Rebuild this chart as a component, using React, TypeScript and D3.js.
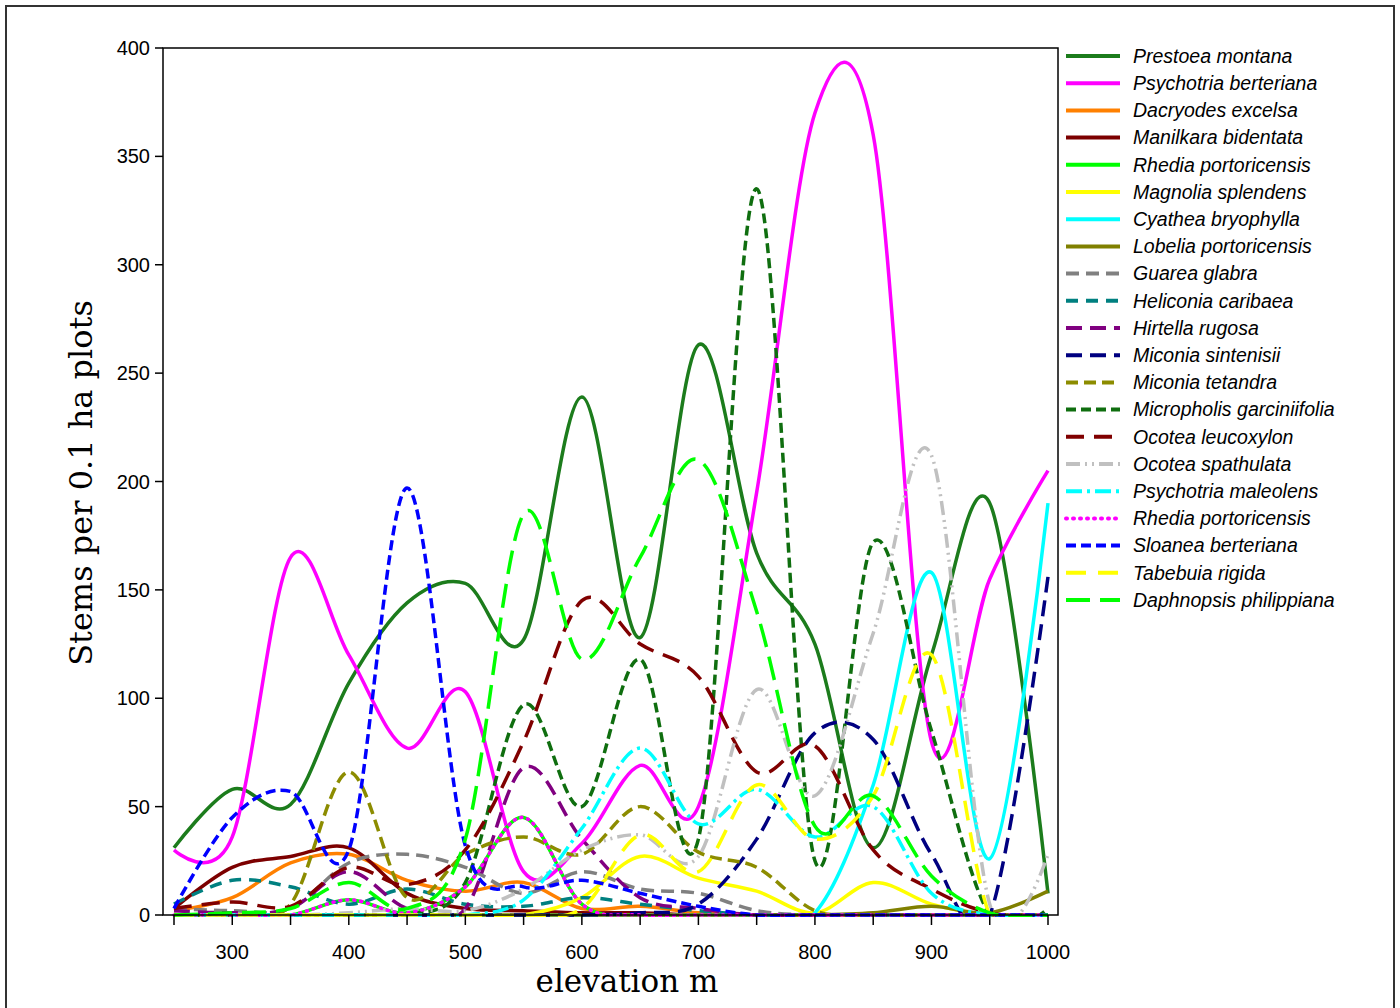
import * as d3 from 'd3';

const elevation = [250, 300, 350, 400, 450, 500, 550, 600, 650, 700, 750, 800, 850, 900, 950, 1000];

const prestoeaMontana = [31, 58, 51, 107, 144, 153, 127, 239, 128, 263, 167, 125, 31, 120, 190, 10];
const psychotriaBerteriana = [30, 36, 165, 120, 77, 103, 20, 33, 69, 50, 195, 370, 360, 80, 155, 205];
const dacryodesExcelsa = [2, 8, 24, 28, 16, 11, 15, 3, 4, 1, 0, 0, 0, 0, 0, 0];
const manilkaraBidentata = [3, 22, 27, 31, 10, 3, 2, 1, 1, 0, 0, 0, 0, 0, 0, 0];
const rhediaPortoricensis = [0, 0, 0, 7, 1, 13, 45, 5, 0, 0, 0, 0, 0, 0, 0, 0];
const magnoliaSplendens = [0, 0, 0, 0, 0, 0, 0, 8, 27, 17, 11, 1, 15, 5, 0, 0];
const cyatheaBryophylla = [0, 0, 0, 0, 0, 0, 0, 0, 0, 0, 0, 1, 60, 158, 26, 190];
const lobeliaPortoricensis = [0, 0, 0, 0, 0, 0, 0, 0, 0, 0, 0, 0, 1, 4, 1, 11];
const guareaGlabra = [3, 2, 3, 24, 28, 22, 10, 20, 12, 10, 2, 0, 0, 0, 0, 0];
const heliconiaCaribaea = [5, 16, 13, 5, 12, 5, 4, 8, 5, 2, 0, 0, 0, 0, 0, 0];
const hirtellaRugosa = [2, 1, 3, 20, 3, 3, 68, 35, 8, 3, 0, 0, 0, 0, 0, 0];
const miconiaSintenisii = [0, 0, 0, 0, 0, 0, 0, 0, 1, 5, 35, 84, 81, 28, 0, 156];
const miconiaTetandra = [0, 0, 5, 66, 8, 28, 36, 28, 50, 29, 22, 2, 0, 0, 0, 0];
const micropholisGarciniifolia = [0, 0, 0, 0, 0, 15, 97, 50, 118, 35, 335, 25, 172, 85, 0, 3];
const ocoteaLeucoxylon = [3, 6, 4, 22, 14, 30, 80, 145, 125, 110, 66, 78, 30, 12, 1, 0];
const ocoteaSpathulata = [0, 0, 0, 1, 3, 2, 12, 30, 37, 27, 104, 55, 130, 212, 5, 28];
const psychotriaMaleolens = [0, 0, 0, 0, 0, 0, 7, 40, 77, 42, 58, 36, 50, 10, 0, 0];
const sloaneaBerteriana = [3, 45, 57, 30, 197, 32, 13, 16, 10, 4, 0, 0, 0, 0, 0, 0];
const tabebuiaRigida = [0, 0, 0, 0, 0, 0, 0, 3, 37, 20, 60, 35, 55, 120, 0, 0];
const daphnopsisPhilippiana = [0, 1, 3, 15, 3, 35, 185, 118, 165, 210, 140, 41, 55, 18, 1, 0];

const yTicks = [0, 50, 100, 150, 200, 250, 300, 350, 400];
const xTickLabels = [300, 400, 500, 600, 700, 800, 900, 1000];
const xMinorTicks = [250, 300, 350, 400, 450, 500, 550, 600, 650, 700, 750, 800, 850, 900, 950, 1000];

const series = [
  { name: 'Prestoea montana', values: prestoeaMontana, color: '#1c7c1c', dash: '' },
  { name: 'Psychotria berteriana', values: psychotriaBerteriana, color: '#ff00ff', dash: '' },
  { name: 'Dacryodes excelsa', values: dacryodesExcelsa, color: '#ff8000', dash: '' },
  { name: 'Manilkara bidentata', values: manilkaraBidentata, color: '#7c0000', dash: '' },
  { name: 'Rhedia portoricensis', values: rhediaPortoricensis, color: '#00ff00', dash: '' },
  { name: 'Magnolia splendens', values: magnoliaSplendens, color: '#ffff00', dash: '' },
  { name: 'Cyathea bryophylla', values: cyatheaBryophylla, color: '#00ffff', dash: '' },
  { name: 'Lobelia portoricensis', values: lobeliaPortoricensis, color: '#808000', dash: '' },
  { name: 'Guarea glabra', values: guareaGlabra, color: '#808080', dash: '13 7' },
  { name: 'Heliconia caribaea', values: heliconiaCaribaea, color: '#008080', dash: '12 8' },
  { name: 'Hirtella rugosa', values: hirtellaRugosa, color: '#800080', dash: '16 8' },
  { name: 'Miconia sintenisii', values: miconiaSintenisii, color: '#000080', dash: '16 8' },
  { name: 'Miconia tetandra', values: miconiaTetandra, color: '#8c8c00', dash: '12 6' },
  { name: 'Micropholis garciniifolia', values: micropholisGarciniifolia, color: '#0f6e0f', dash: '10 5' },
  { name: 'Ocotea leucoxylon', values: ocoteaLeucoxylon, color: '#800000', dash: '18 10' },
  { name: 'Ocotea spathulata', values: ocoteaSpathulata, color: '#c0c0c0', dash: '14 5 2 5 2 5' },
  { name: 'Psychotria maleolens', values: psychotriaMaleolens, color: '#00ffff', dash: '16 5 3 5' },
  { name: 'Rhedia portoricensis', values: rhediaPortoricensis, color: '#ff00ff', dash: '1 6', dotted: true },
  { name: 'Sloanea berteriana', values: sloaneaBerteriana, color: '#0000ff', dash: '10 5' },
  { name: 'Tabebuia rigida', values: tabebuiaRigida, color: '#ffff00', dash: '20 12' },
  { name: 'Daphnopsis philippiana', values: daphnopsisPhilippiana, color: '#00ff00', dash: '24 10' },
];

export default function App() {
  const frame = { left: 163, right: 1058, top: 48, bottom: 915 };

  const x = d3.scaleLinear().domain([250, 1000]).range([174, 1048]);
  const y = d3.scaleLinear().domain([0, 400]).range([frame.bottom, frame.top]);

  // uniform catmull-rom gives the rounded spline look of the original
  const line = d3
    .line<number>()
    .x((_, i) => x(elevation[i]))
    .y((d) => y(d))
    .curve(d3.curveCatmullRom.alpha(0));

  const sans = '"Liberation Sans", Arial, sans-serif';
  const serif = '"DejaVu Serif", serif';

  return (
    <svg width={1400} height={1008} style={{ position: 'absolute', left: 0, top: 0, background: '#fff' }}>
      <defs>
        <clipPath id="plot">
          <rect x={frame.left} y={frame.top} width={frame.right - frame.left} height={frame.bottom - frame.top + 2} />
        </clipPath>
      </defs>
      <rect x={6} y={6} width={1388} height={1010} fill="none" stroke="#333" strokeWidth={2} />

      <g clipPath="url(#plot)">
        {series.map((s, i) => (
          <path
            key={i}
            d={line(s.values) || ''}
            fill="none"
            stroke={s.color}
            strokeWidth={3.5}
            strokeDasharray={s.dash || undefined}
            strokeLinecap={s.dotted ? 'round' : 'butt'}
          />
        ))}
      </g>

      <rect
        x={frame.left}
        y={frame.top}
        width={frame.right - frame.left}
        height={frame.bottom - frame.top}
        fill="none"
        stroke="#000"
        strokeWidth={1.5}
      />

      {yTicks.map((t) => (
        <g key={t}>
          <line x1={frame.left - 8} x2={frame.left} y1={y(t)} y2={y(t)} stroke="#000" strokeWidth={1.5} />
          <text x={150} y={y(t)} dy="0.35em" textAnchor="end" fontFamily={sans} fontSize={20}>
            {t}
          </text>
        </g>
      ))}

      {xMinorTicks.map((t) => (
        <line key={t} x1={x(t)} x2={x(t)} y1={frame.bottom} y2={frame.bottom + 10} stroke="#000" strokeWidth={1.5} />
      ))}
      {xTickLabels.map((t) => (
        <text key={t} x={x(t)} y={959} textAnchor="middle" fontFamily={sans} fontSize={20}>
          {t}
        </text>
      ))}

      <text x={627} y={992} textAnchor="middle" fontFamily={serif} fontSize={31}>
        elevation m
      </text>
      <text
        transform="translate(92,483) rotate(-90)"
        textAnchor="middle"
        fontFamily={serif}
        fontSize={32}
      >
        Stems per 0.1 ha plots
      </text>

      {series.map((s, i) => {
        const ly = 56 + i * 27.2;
        return (
          <g key={i}>
            <line
              x1={1066}
              x2={1120}
              y1={ly}
              y2={ly}
              stroke={s.color}
              strokeWidth={4}
              strokeDasharray={s.dash || undefined}
              strokeLinecap={s.dotted ? 'round' : 'butt'}
            />
            <text x={1133} y={ly} dy="0.35em" fontFamily={sans} fontStyle="italic" fontSize={19.5}>
              {s.name}
            </text>
          </g>
        );
      })}
    </svg>
  );
}
